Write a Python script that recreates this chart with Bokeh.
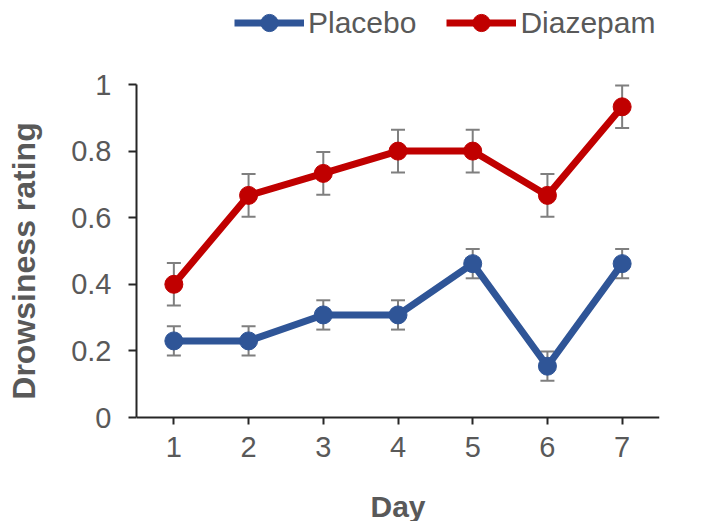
from bokeh.plotting import figure
from bokeh.models import ColumnDataSource, Whisker, TeeHead, Legend, LegendItem, FixedTicker, Range1d
from bokeh.embed import file_html
from bokeh.resources import INLINE

days = [1, 2, 3, 4, 5, 6, 7]
placebo = [0.23, 0.23, 0.308, 0.308, 0.462, 0.154, 0.462]
placebo_err = [0.044, 0.044, 0.044, 0.044, 0.044, 0.044, 0.044]
diazepam = [0.40, 0.667, 0.733, 0.80, 0.80, 0.667, 0.933]
diazepam_err = [0.064, 0.064, 0.064, 0.064, 0.064, 0.064, 0.064]
y_ticks = [0, 0.2, 0.4, 0.6, 0.8, 1]
y_tick_labels = ["0", "0.2", "0.4", "0.6", "0.8", "1"]

BLUE = "#2F5597"
RED = "#C00000"
GRAY = "#7F7F7F"
TEXT = "#595959"
FONT = "Liberation Sans"

# frame covers full canvas height: y=0 at 417px, y=1 at 84px
p = figure(width=707, height=521, output_backend="svg", toolbar_location=None,
           x_range=Range1d(0.5, 7.5), y_range=Range1d(-104 / 333, 417 / 333),
           min_border_left=136, min_border_right=48, min_border_top=0, min_border_bottom=0)
p.outline_line_color = None
p.grid.visible = False
p.background_fill_color = "white"
p.border_fill_color = "white"

def src(vals, errs):
    return ColumnDataSource(dict(x=days, y=vals,
                                 lo=[v - e for v, e in zip(vals, errs)],
                                 hi=[v + e for v, e in zip(vals, errs)]))

items = []
for name, vals, errs, col in [("Placebo", placebo, placebo_err, BLUE),
                              ("Diazepam", diazepam, diazepam_err, RED)]:
    s = src(vals, errs)
    w = Whisker(source=s, base="x", lower="lo", upper="hi",
                line_color=GRAY, line_width=2,
                upper_head=TeeHead(size=14, line_color=GRAY, line_width=2),
                lower_head=TeeHead(size=14, line_color=GRAY, line_width=2))
    p.add_layout(w)
    l = p.line("x", "y", source=s, line_color=col, line_width=7)
    c = p.scatter("x", "y", source=s, size=18, fill_color=col, line_color=col)
    items.append(LegendItem(label=name, renderers=[l, c]))

legend = Legend(items=items, orientation="horizontal", location=(98, 477),
                background_fill_alpha=0, border_line_color=None,
                glyph_width=70, glyph_height=43, label_standoff=4, spacing=30,
                label_text_font=FONT, label_text_font_size="30px", label_text_color=TEXT,
                padding=0, margin=0)
p.add_layout(legend, "center")

# axes
for ax in (p.xaxis[0], p.yaxis[0]):
    ax.axis_line_color = "#262626"
    ax.axis_line_width = 2
    ax.major_tick_line_color = "#262626"
    ax.major_tick_line_width = 2
    ax.minor_tick_line_color = None
    ax.major_tick_in = 0
    ax.major_label_text_font = FONT
    ax.major_label_text_font_size = "29px"
    ax.major_label_text_color = TEXT
    ax.axis_label_text_font = FONT
    ax.axis_label_text_font_style = "bold"
    ax.axis_label_text_color = TEXT

p.yaxis.ticker = FixedTicker(ticks=y_ticks)
p.yaxis.bounds = (0, 1)
p.yaxis.major_label_overrides = {t: l for t, l in zip(y_ticks, y_tick_labels)}
p.yaxis.major_tick_out = 8
p.yaxis.major_label_standoff = 17
p.yaxis.axis_label = "Drowsiness rating"
p.yaxis.axis_label_text_font_size = "32px"
p.yaxis.axis_label_standoff = 26

p.xaxis.fixed_location = 0
p.xaxis.ticker = FixedTicker(ticks=days)
p.xaxis.major_tick_out = 7
p.xaxis.major_label_standoff = 12
p.xaxis.axis_label = "Day"
p.xaxis.axis_label_text_font_size = "30px"
p.xaxis.axis_label_standoff = 30

open("out.html", "w").write(file_html(p, INLINE))
